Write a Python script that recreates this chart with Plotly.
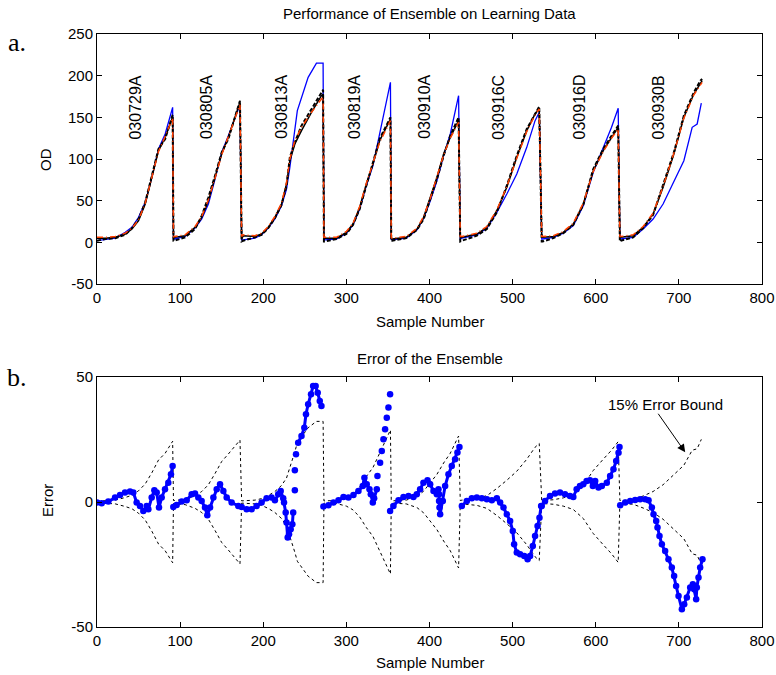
import plotly.graph_objects as go

# ---------------- data: top panel (OD vs sample number) ----------------
# ensemble / model curves share these sample positions
x_ens = [0, 10, 22, 34, 42, 50, 58, 66, 74, 82, 88, 91, 92,
         93, 106, 118, 126, 134, 142, 150, 158, 166, 172, 174,
         176, 190, 198, 206, 214, 222, 228, 232, 238, 246, 258, 270, 272, 273,
         274, 288, 300, 308, 316, 324, 332, 340, 348, 353, 354,
         355, 372, 385, 393, 401, 409, 417, 425, 435, 437,
         439, 457, 469, 481, 493, 505, 517, 527, 532, 535,
         536, 549, 561, 573, 585, 597, 609, 619, 627, 629,
         630, 645, 657, 669, 681, 694, 706, 718, 726, 728]
y_ens = [5, 5, 6, 10, 16, 26, 46, 78, 110, 126, 142, 150, 5,
         6, 8, 18, 30, 50, 78, 106, 126, 150, 168, 4,
         8, 7, 10, 18, 30, 46, 70, 98, 118, 134, 156, 176, 178, 5,
         5, 5, 12, 22, 42, 70, 94, 122, 138, 148, 4,
         4, 6, 16, 30, 54, 78, 106, 126, 146, 6,
         6, 10, 18, 38, 66, 102, 134, 154, 161, 6,
         6, 7, 12, 22, 46, 86, 110, 126, 138, 6,
         6, 8, 18, 34, 66, 106, 150, 178, 192, 194]
y_orange = [6, 6, 7, 11, 17, 27, 47, 79, 109, 127, 141, 149, 6,
            7, 9, 19, 31, 51, 77, 105, 127, 149, 165, 7,
            9, 8, 11, 19, 31, 47, 72, 100, 122, 138, 156, 172, 174, 6,
            6, 6, 13, 23, 43, 71, 95, 120, 136, 146, 6,
            5, 7, 17, 31, 53, 79, 105, 125, 144, 7,
            7, 11, 19, 39, 67, 101, 133, 153, 160, 7,
            7, 8, 13, 23, 47, 85, 109, 125, 136, 7,
            7, 9, 19, 35, 67, 107, 149, 177, 190, 192]
y_dash = [2, 4, 5, 9, 17, 28, 48, 80, 112, 124, 144, 153, 2,
          2, 6, 16, 32, 54, 80, 108, 124, 152, 170, 1,
          2, 6, 9, 17, 29, 45, 68, 102, 120, 140, 160, 180, 183, 1,
          1, 4, 10, 21, 40, 68, 96, 124, 140, 150, 2,
          2, 5, 15, 28, 52, 76, 104, 128, 150, 1,
          2, 8, 16, 36, 68, 104, 136, 155, 163, 1,
          1, 5, 11, 21, 45, 88, 112, 128, 140, 1,
          2, 6, 17, 33, 68, 108, 152, 180, 194, 196]

# measured OD (blue)
x_blue = [0, 10, 22, 34, 42, 50, 58, 66, 74, 82, 88, 91, 92,
          93, 106, 118, 126, 134, 142, 150, 158, 166, 172, 174,
          176, 190, 198, 206, 214, 222, 228, 232, 238, 241, 254, 264, 272, 273,
          274, 288, 300, 308, 316, 324, 332, 340, 346, 353, 354,
          355, 372, 385, 393, 401, 409, 417, 425, 435, 437,
          439, 457, 469, 481, 493, 505, 517, 527, 532, 535,
          536, 549, 561, 573, 585, 597, 609, 619, 627, 629,
          630, 645, 657, 669, 681, 694, 706, 716, 722, 727]
y_blue = [2, 3, 5, 12, 18, 30, 48, 78, 112, 130, 150, 162, 4,
          4, 7, 17, 28, 46, 76, 108, 128, 150, 165, 3,
          3, 5, 9, 17, 28, 44, 64, 90, 134, 158, 198, 215, 215, 3,
          3, 4, 11, 21, 40, 68, 92, 130, 162, 192, 4,
          3, 5, 15, 29, 50, 74, 104, 130, 176, 4,
          5, 9, 17, 36, 58, 82, 114, 146, 156, 4,
          4, 6, 11, 20, 44, 84, 114, 138, 161, 4,
          4, 6, 16, 28, 46, 74, 98, 138, 142, 167]

batch_names = ["030729A", "030805A", "030813A", "030819A",
               "030910A", "030916C", "030916D", "030930B"]
batch_label_x = [46, 132, 222, 310, 394, 483, 580, 675]
batch_label_y = [162, 162, 162, 162, 162, 162, 162, 162]

# ---------------- data: bottom panel (error) ----------------
err_x = [0, 5.6, 13.6, 21.7, 27.7, 33.7, 39.7, 43.7, 47.7, 51.7, 55.7, 59.8, 61.8, 65.8, 69, 71.8,
         74.6, 77.8, 81.8, 85.8, 89, 91, None,
         91.8, 95.8, 101.9, 107.9, 113.9, 117.9, 121.9, 125.9, 129.9, 132.7, 136, 140, 144, 148,
         152, 156, 162, 170, None,
         174, 180, 186, 192, 198, 204, 210, 214, 218, 221, 224, 225, 227, 228, 229.4, None,
         231, 233, 235, 236, None, 238, None, 238, None, 239.4, None,
         242, 246, 249.4, 251.4, 254, 257.5, 260, 263, 265.5, 268, 270, None,
         272.4, 278.4, 284.4, 290.5, 296.5, 302.5, 308.5, 314.5, 319.7, 321.7, 324.5, 327.8,
         329.4, 331.8, 333.4, 336.6, None,
         337.4, None, 340.6, None, 342.6, None, 344.6, None, 346.6, None, 348.6, None,
         350.6, None, 352.6, None,
         352.6, 356.6, 362.7, 368.7, 374.7, 380.7, 384.7, 388.7, 392.7, 397.6, 400.8, 404.8,
         408.8, 410.8, 411.5, 411.5, 412, 412.8, 416, 418.8, 422.8, 426.8, 430.8, 433.6, 436, None,
         438.9, 444.9, 450.9, 456.9, 462.9, 469, 475, 481, 485, 489, 493, 497, 500.2, 501.8,
         505, 509, 514, 518, 521, 524.3, 527, 530, 532.3, 534.3,
         535, 539, 545, 551, 557, 563, 569, 573, 577, 581, 585, 589, 593, 596.5, 599.3, 603.3,
         607.3, 613.3, 617.3, 621.3, 624.6, 627.4, 628.6, None,
         629.4, 635.4, 641.4, 647.4, 653.4, 659.4, 663.5, 667.5, 669.5, 672.7, 674.3, 676.7,
         679.5, 683.5, 687.5, 691.5, 694.3, 696.7, 699.6, 703.6, 706.4, 709.6, 713.6, 716.8,
         718.4, 720.8, 721.6, 723.6, 725.6, 728.4]
err_y = [-0.2, -0.5, 0.2, 1.8, 2.8, 3.8, 4.2, 3.8, -0.2, -1.6, -3.6, -1.6, -2.9, 1.8, 4.7, 3.8,
         -2.2, 1.8, 5.1, 7.7, 11.1, 14.4, None,
         -2, -1.2, 0.2, 0.7, 3.1, 3.4, 1.8, 0.4, -2.2, -5.3, -2.2, 1.8, 5.1, 7.1,
         4.4, 1.8, -0.2, -1.6, None,
         -2, -2.9, -2.9, -1.6, -0.2, 1.5, 1.8, 0.7, 3.1, 4.4, 1.5, -0.2, -4.2, -8.2, -14.2, None,
         -12.9, -10.9, -8.9, -4.2, None, 4.7, None, 12.7, None, 19.1, None,
         23.7, 26.4, 29.7, 35.1, 39.1, 43.1, 46.4, 46.4, 43.7, 40.4, 38.4, None,
         -1.8, -1.3, -0.2, 0.7, 2, 1.8, 2.8, 4.4, 6.4, 9.7, 7.1, 5.1,
         3.1, -0.2, 1.5, 5.1, None,
         10.4, None, 15.7, None, 20.4, None, 25.1, None, 29.1, None, 33.7, None,
         37.8, None, 43.1, None,
         -3.6, -1.6, 0.7, 2, 2.4, 2, 3.1, 5.1, 7.7, 8.7, 7.1, 4.4,
         3.1, 5.1, 3.1, 0.4, -2.2, -4.9, 0.4, 6.4, 11.1, 14.4, 17.1, 19.8, 22, None,
         -1.6, 0.4, 1.5, 1.8, 1.5, 1.1, 0.7, 1.5, -0.2, -2.2, -4.9, -7.6, -11.6, -16.9,
         -20.2, -20.9, -21.6, -22.9, -21.6, -17.6, -13.6, -9.6, -6.3, -1.6,
         -1.6, 0.4, 2.4, 3.4, 3.8, 3.1, 2.4, 2, 5.1, 6.4, 7.1, 8.4, 8.7, 6.4, 8.4, 5.8,
         6.4, 7.7, 10.4, 13.1, 16.4, 19.7, 22, None,
         -1.3, -0.2, 0.4, 0.8, 1.1, 1.1, 0.7, -2.2, -4.9, -7.6, -10.2, -13.6,
         -16.9, -19.6, -22.9, -26.2, -29.6, -33.6, -37.6, -42.9, -40.9, -38.2, -34.2, -32.9,
         -34.9, -38.9, -34.2, -30.2, -26.2, -22.9]

BOUND_FRACTION = 0.15  # "15% Error Bound" of the measured OD
bound_up = [BOUND_FRACTION * v for v in y_blue]
bound_lo = [-BOUND_FRACTION * v for v in y_blue]

x_ticks = [0, 100, 200, 300, 400, 500, 600, 700, 800]
od_ticks = [-50, 0, 50, 100, 150, 200, 250]
err_ticks = [-50, 0, 50]

# ---------------- figure ----------------
W, H = 776, 675
FONT = "Liberation Sans, Arial, sans-serif"

fig = go.Figure()

fig.add_trace(go.Scatter(x=x_blue, y=y_blue, mode="lines",
                         line=dict(color="#0000ff", width=1.3),
                         xaxis="x", yaxis="y", showlegend=False))
fig.add_trace(go.Scatter(x=x_ens, y=y_ens, mode="lines",
                         line=dict(color="black", width=1.5),
                         xaxis="x", yaxis="y", showlegend=False))
fig.add_trace(go.Scatter(x=x_ens, y=y_dash, mode="lines",
                         line=dict(color="black", width=2, dash="4px,2px"),
                         xaxis="x", yaxis="y", showlegend=False))
fig.add_trace(go.Scatter(x=x_ens, y=y_orange, mode="lines",
                         line=dict(color="#ff4000", width=1.5, dash="6px,3px,1px,3px"),
                         xaxis="x", yaxis="y", showlegend=False))

fig.add_trace(go.Scatter(x=x_blue, y=bound_up, mode="lines",
                         line=dict(color="black", width=1, dash="3px,3px"),
                         xaxis="x2", yaxis="y2", showlegend=False))
fig.add_trace(go.Scatter(x=x_blue, y=bound_lo, mode="lines",
                         line=dict(color="black", width=1, dash="3px,3px"),
                         xaxis="x2", yaxis="y2", showlegend=False))
fig.add_trace(go.Scatter(x=err_x, y=err_y, mode="lines+markers",
                         line=dict(color="#0000ff", width=3),
                         marker=dict(color="#0000ff", size=6.5),
                         connectgaps=False,
                         xaxis="x2", yaxis="y2", showlegend=False))

# plot areas (pixels): x 97..762 ; top y 34..284 ; bottom y 377..627
ML, MR, MT, MB = 97, W - 762, 34, H - 627
inner_h = H - MT - MB
top_dom = [(627 - 284) / inner_h, 1.0]
bot_dom = [0.0, (627 - 377) / inner_h]

axis_common = dict(showline=True, linecolor="black", linewidth=1, mirror="ticks",
                   ticks="inside", ticklen=5, tickcolor="black", showgrid=False,
                   zeroline=False, automargin=False,
                   tickfont=dict(family=FONT, size=15, color="black"))

fig.update_layout(
    width=W, height=H, margin=dict(l=ML, r=MR, t=MT, b=MB, pad=0, autoexpand=False),
    paper_bgcolor="white", plot_bgcolor="white",
    xaxis=dict(domain=[0, 1], range=[0, 800], anchor="y",
               tickvals=x_ticks, ticktext=[str(v) for v in x_ticks], **axis_common),
    yaxis=dict(domain=top_dom, range=[-50, 250], anchor="x",
               tickvals=od_ticks, ticktext=[str(v) for v in od_ticks], **axis_common),
    xaxis2=dict(domain=[0, 1], range=[0, 800], anchor="y2",
                tickvals=x_ticks, ticktext=[str(v) for v in x_ticks], **axis_common),
    yaxis2=dict(domain=bot_dom, range=[-50, 50], anchor="x2",
                tickvals=err_ticks, ticktext=[str(v) for v in err_ticks], **axis_common),
)

ann = []
for name, bx, by in zip(batch_names, batch_label_x, batch_label_y):
    ann.append(dict(x=bx, y=by, xref="x", yref="y", text=name, showarrow=False,
                    textangle=-90, font=dict(family=FONT, size=16, color="black")))

def px(xp, yp):
    # convert page pixels to paper coordinates (paper = plot area inside margins)
    return (xp - ML) / (W - ML - MR), 1 - (yp - MT) / inner_h

def paper_ann(xp, yp, text, size=15, angle=0, family=FONT):
    tx, ty = px(xp, yp)
    return dict(x=tx, y=ty, xref="paper", yref="paper", showarrow=False, text=text,
                textangle=angle, xanchor="center", yanchor="middle",
                font=dict(family=family, size=size, color="black"))

ann.append(paper_ann(429.5, 14, "Performance of Ensemble on Learning Data"))
ann.append(paper_ann(429.5, 358, "Error of the Ensemble"))
ann.append(paper_ann(429.5, 322, "Sample Number"))
ann.append(paper_ann(429.5, 662, "Sample Number"))
ann.append(paper_ann(45, 160, "OD", angle=-90))
ann.append(paper_ann(47, 501, "Error", angle=-90))
SERIF = "Liberation Serif, Times New Roman, serif"
ann.append(paper_ann(17, 43, "a.", size=26, family=SERIF))
ann.append(paper_ann(17, 377, "b.", size=26, family=SERIF))
ann.append(dict(x=683.5, y=39.1, xref="x2", yref="y2", showarrow=False,
                text="15% Error Bound", font=dict(family=FONT, size=15, color="black")))
ann.append(dict(x=707.6, y=19.9, xref="x2", yref="y2", ax=673.9, ay=35.9,
                axref="x2", ayref="y2", text="", showarrow=True, arrowhead=2,
                arrowsize=1.6, arrowwidth=1, arrowcolor="black"))

fig.update_layout(annotations=ann)

fig.write_html("out.html")
